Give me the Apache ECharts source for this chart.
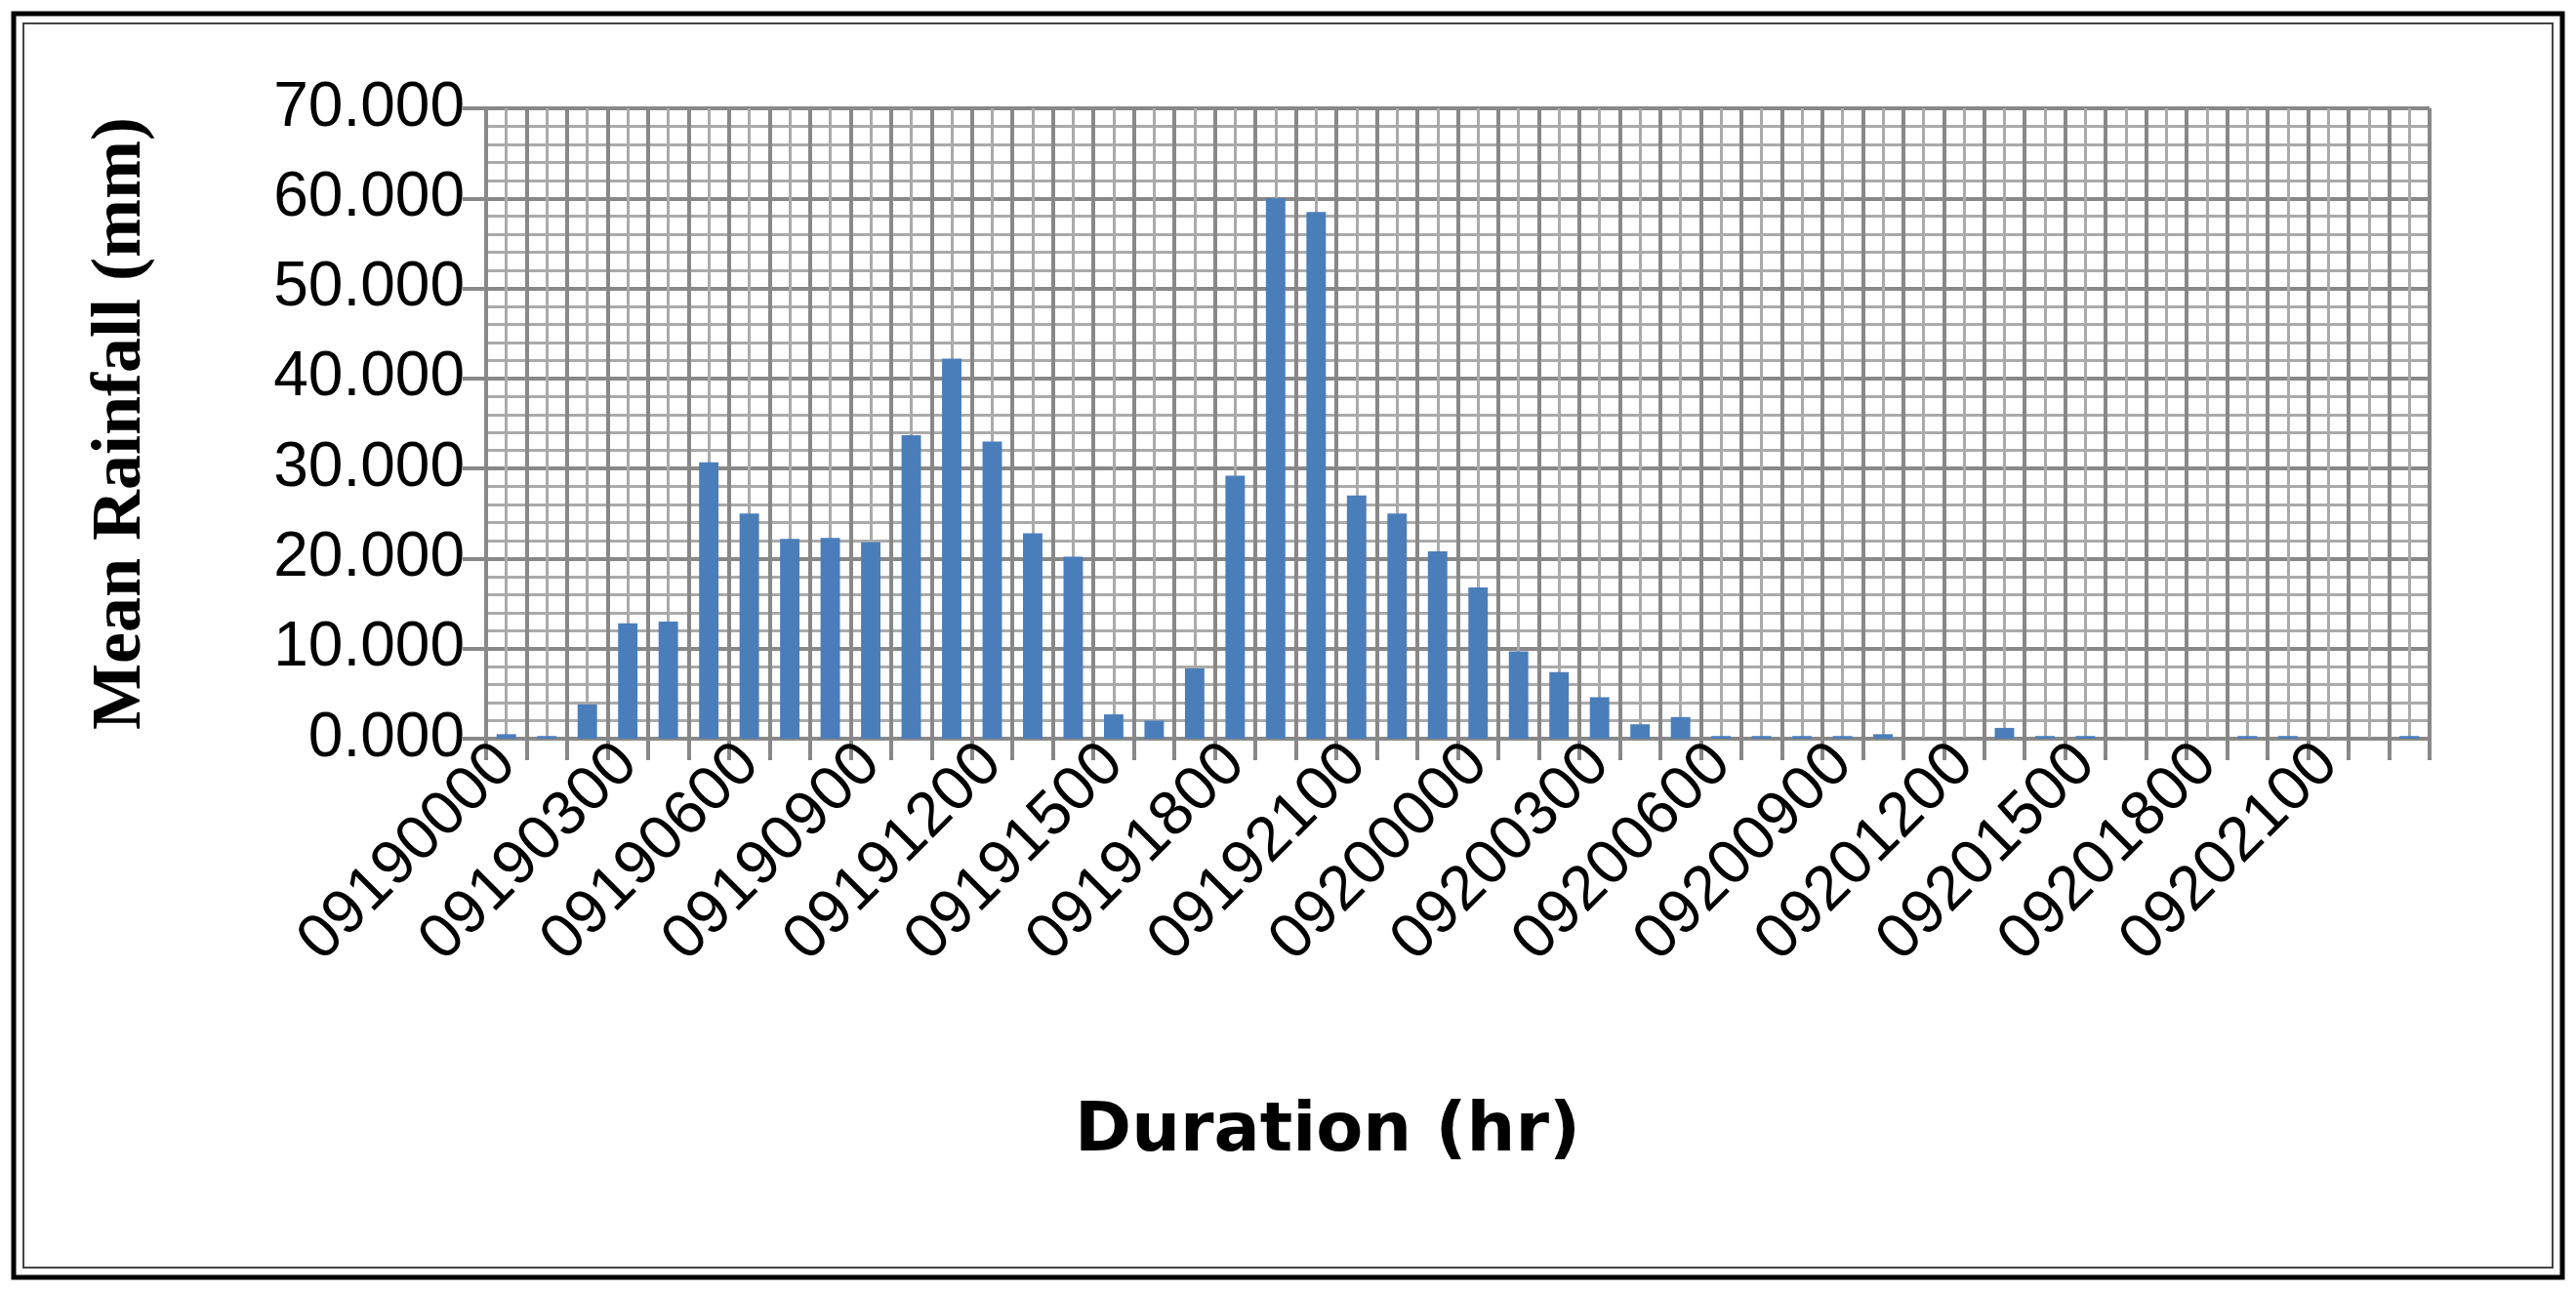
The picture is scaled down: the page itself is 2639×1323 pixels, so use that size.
<!DOCTYPE html>
<html>
<head>
<meta charset="utf-8">
<script src="https://cdn.jsdelivr.net/npm/echarts@6/dist/echarts.min.js"></script>
<style>html,body{margin:0;padding:0;background:#fff;}#main{width:2639px;height:1323px;}</style>
</head>
<body>
<div id="main"></div>
<script>
// hourly categories 0919 00h .. 0920 23h
let hours = [];
for (let d of ['0919', '0920']) {
    for (let h = 0; h < 24; h++) hours.push('0' + d.slice(1) + (h < 10 ? '0' : '') + h + '00');
}
let rainfall = [0.5, 0.3, 3.8, 12.8, 13.0, 30.7, 25.0, 22.2, 22.3, 21.8, 33.7, 42.2,
    33.0, 22.8, 20.2, 2.7, 2.0, 7.8, 29.2, 60.0, 58.5, 27.0, 25.0, 20.8,
    16.8, 9.7, 7.4, 4.6, 1.6, 2.4, 0.3, 0.3, 0.3, 0.3, 0.5, 0,
    0, 1.2, 0.3, 0.3, 0, 0, 0, 0.3, 0.3, 0, 0, 0.3];

let myChart = echarts.init(document.getElementById('main'));
let option = {
    animation: false,
    graphic: [
        { type: 'rect', shape: { x: 14, y: 14, width: 2611, height: 1295 }, style: { fill: 'none', stroke: '#000', lineWidth: 5 } },
        { type: 'rect', shape: { x: 24, y: 24, width: 2591, height: 1275 }, style: { fill: 'none', stroke: '#444', lineWidth: 2 } },
        { type: 'text', x: 1360, y: 1161, style: { text: 'Duration (hr)', fontFamily: 'DejaVu Sans', fontWeight: 'bold', fontSize: 70, fill: '#000', align: 'center', verticalAlign: 'middle' } }
    ],
    grid: { left: 498, right: 150, top: 111, bottom: 566 },
    xAxis: [{
        type: 'category',
        data: hours,
        axisLine: { lineStyle: { color: '#888', width: 3 } },
        axisTick: { show: true, interval: 0, length: 22, lineStyle: { color: '#888', width: 4 } },
        axisLabel: { interval: 2, rotate: 45, fontFamily: 'Liberation Sans', fontSize: 64, color: '#000', margin: 16 },
        splitLine: { show: true, interval: 0, lineStyle: { color: '#888', width: 4 } },
        z: 3
    }, {
        // minor vertical grid, one line in the middle of each hour
        type: 'value',
        min: 0, max: 48, interval: 0.5,
        show: true,
        axisLine: { show: false },
        axisTick: { show: false },
        axisLabel: { show: false },
        splitLine: { lineStyle: { color: '#aaa', width: 3 } },
        z: 1
    }],
    yAxis: {
        type: 'value',
        min: 0, max: 70, interval: 10,
        name: 'Mean Rainfall (mm)',
        nameLocation: 'middle',
        nameGap: 338,
        nameTextStyle: { fontFamily: 'Liberation Serif', fontWeight: 'bold', fontSize: 72, color: '#000' },
        axisLine: { show: false },
        axisTick: { show: true, length: 24, lineStyle: { color: '#888', width: 4 } },
        axisLabel: { formatter: v => v.toFixed(3), fontFamily: 'Liberation Sans', fontSize: 64, color: '#000', margin: 22 },
        splitLine: { lineStyle: { color: '#888', width: 4 } },
        minorTick: { show: false, splitNumber: 5 },
        minorSplitLine: { show: true, lineStyle: { color: '#aaa', width: 3 } }
    },
    series: [{
        type: 'bar',
        xAxisIndex: 0,
        data: rainfall,
        barWidth: '48%',
        itemStyle: { color: '#4a7ebb' },
        z: 5
    }]
};
myChart.setOption(option);
</script>
</body>
</html>
